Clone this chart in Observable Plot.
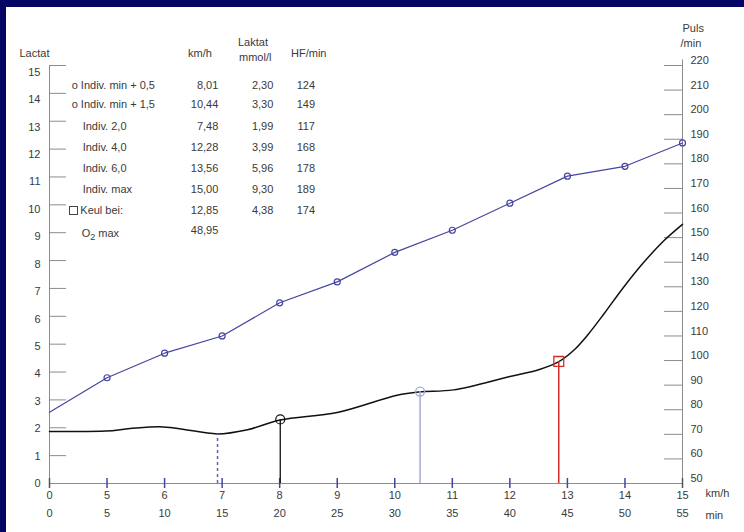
<!DOCTYPE html>
<html><head><meta charset="utf-8">
<script src="https://cdn.jsdelivr.net/npm/d3@7"></script>
<script src="https://cdn.jsdelivr.net/npm/@observablehq/plot@0.6"></script>
<style>
html,body{margin:0;padding:0;background:#050566;width:744px;height:532px;overflow:hidden;}
#wrap{position:absolute;left:6px;top:7px;width:738px;height:525px;background:#fff;}
#chart{position:absolute;left:0;top:0;}
.cell{position:absolute;font:11px "Liberation Sans",Arial,sans-serif;color:#3a3a3a;line-height:12px;white-space:nowrap;}
.box{position:absolute;width:7px;height:7px;border:1px solid #444;}
</style></head><body><div id="wrap"><div id="chart"></div></div>
<script>
// ---- data ----
const minutes = [0,5,10,15,20,25,30,35,40,45,50,55];
const kmhLabels = [0,5,6,7,8,9,10,11,12,13,14,15];
const minLabels = [0,5,10,15,20,25,30,35,40,45,50,55];
const leftTicks = [0,1,2,3,4,5,6,7,8,9,10,11,12,13,14,15];
const pulsTicks = [50,60,70,80,90,100,110,120,130,140,150,160,170,180,190,200,210,220];
const pulsValues = [79,93,103,110,123.5,132,144,153,164,175,179,188.5];
const lactatMinutes = [0,4.9,7,9.6,11.4,14.6,17.2,20.05,25,30.2,32.2,35.1,40,42.5,44.25,45.6,46.8,48.2,49.8,51.6,53.4,55];
const lactatValues  = [1.87,1.88,1.97,2.04,1.96,1.78,1.93,2.28,2.55,3.17,3.29,3.36,3.84,4.08,4.37,4.8,5.35,6.1,7.0,7.92,8.72,9.3];
// markers: individual minimum, min+0.5, min+1.5, Keul
const minKmh = [6.92], minLac = [1.78];
const m05Kmh = [8.01], m05Lac = [2.30];
const m15Kmh = [10.44], m15Lac = [3.30];
const keulKmh = [12.85], keulLac = [4.38];
// table
const tableLabels = ["o Indiv. min + 0,5","o Indiv. min + 1,5","Indiv. 2,0","Indiv. 4,0","Indiv. 6,0","Indiv. max","Keul bei:","O<sub style='font-size:9px;position:relative;top:3px;vertical-align:baseline'>2</sub> max"];
const tableKmh = [8.01,10.44,7.48,12.28,13.56,15.00,12.85,48.95];
const tableLac = [2.30,3.30,1.99,3.99,5.96,9.30,4.38,null];
const tableHF  = [124,149,117,168,178,189,174,null];

// ---- helpers ----
const W=738,H=525,mL=43,mR=62,mT=58,mB=49;
const innerW=W-mL-mR, innerH=H-mT-mB;
const toLac = p => (p-50)*15/170;
const kmhToMin = k => (k-4)*5;
const gray="#8c8c8c", txt="#3a3a3a", blue="#45459f";
const pulsData = minutes.map((m,i)=>({m, p:pulsValues[i]}));
const lacData = lactatMinutes.map((m,i)=>({m, l:lactatValues[i]}));
const fmt = v => v.toFixed(2).replace(".", ",");

const chart = Plot.plot({
  width:W, height:H, marginLeft:mL, marginRight:mR, marginTop:mT, marginBottom:mB,
  x:{domain:[0,55], axis:null},
  y:{domain:[0,15], axis:null},
  style:{fontFamily:'"Liberation Sans", Arial, sans-serif', fontSize:"11px", color:txt, background:"transparent", overflow:"visible"},
  marks:[
    Plot.tickY(leftTicks.filter(v=>v>0), {y:d=>d, stroke:gray, insetRight:innerW-17}),
    Plot.tickY(pulsTicks.filter(p=>p>50), {y:toLac, stroke:gray, insetLeft:innerW-18}),
    Plot.ruleX([0], {x:d=>d, y1:0, y2:15, stroke:gray}),
    Plot.ruleX([55], {x:d=>d, y1:0, y2:15.2, stroke:gray}),
    Plot.ruleY([0], {y:d=>d, stroke:gray}),
    Plot.tickX(minutes.slice(1,-1), {x:d=>d, stroke:blue, strokeWidth:1.5, insetTop:innerH-5, insetBottom:-5}),
    Plot.tickX([0,55], {x:d=>d, stroke:"#555", strokeWidth:1.5, insetTop:innerH-5, insetBottom:-5}),
    Plot.text(leftTicks, {y:d=>d*0.984, text:d=>String(d), frameAnchor:"left", lineAnchor:"middle", textAnchor:"end", dx:-9}),
    Plot.text(pulsTicks, {y:toLac, text:d=>String(d), frameAnchor:"right", lineAnchor:"middle", textAnchor:"start", dx:8, dy:-5}),
    Plot.text(kmhLabels, {x:(d,i)=>minLabels[i], text:d=>String(d), frameAnchor:"bottom", lineAnchor:"middle", dy:12}),
    Plot.text(minLabels, {x:d=>d, text:d=>String(d), frameAnchor:"bottom", lineAnchor:"middle", dy:29.5}),
    Plot.text(["km/h"], {text:d=>d, frameAnchor:"bottom-right", lineAnchor:"middle", textAnchor:"start", dx:23, dy:10}),
    Plot.text(["min"], {text:d=>d, frameAnchor:"bottom-right", lineAnchor:"middle", textAnchor:"start", dx:23, dy:32}),
    Plot.text(["Lactat"], {text:d=>d, frameAnchor:"top-left", lineAnchor:"middle", textAnchor:"start", dx:-30, dy:-12}),
    Plot.text(["Puls"], {text:d=>d, frameAnchor:"top-right", lineAnchor:"middle", textAnchor:"start", dx:0, dy:-37}),
    Plot.text(["/min"], {text:d=>d, frameAnchor:"top-right", lineAnchor:"middle", textAnchor:"start", dx:-2, dy:-22}),
    // heart rate
    Plot.line(pulsData, {x:"m", y:d=>toLac(d.p), stroke:blue, strokeWidth:1.2}),
    Plot.dot(pulsData.slice(1), {x:"m", y:d=>toLac(d.p), r:3, stroke:blue, strokeWidth:1.2, fill:"none"}),
    // lactate curve
    Plot.line(lacData, {x:"m", y:"l", stroke:"#111", strokeWidth:1.5, curve:"catmull-rom"}),
    // marker drop lines
    Plot.ruleX(minKmh, {x:kmhToMin, y1:0, y2:(d,i)=>minLac[i], stroke:"#5a62b2", strokeWidth:1.5, strokeDasharray:"3,3"}),
    Plot.ruleX(m05Kmh, {x:kmhToMin, y1:0, y2:(d,i)=>m05Lac[i], stroke:"#111", strokeWidth:1.3}),
    Plot.dot(m05Kmh, {x:kmhToMin, y:(d,i)=>m05Lac[i], r:4.5, stroke:"#111", strokeWidth:1.2, fill:"none"}),
    Plot.ruleX(m15Kmh, {x:kmhToMin, y1:0, y2:(d,i)=>m15Lac[i], stroke:"#a4aad8", strokeWidth:1.5}),
    Plot.dot(m15Kmh, {x:kmhToMin, y:(d,i)=>m15Lac[i], r:4.5, stroke:"#a4aad8", strokeWidth:1.3, fill:"none"}),
    Plot.ruleX(keulKmh, {x:kmhToMin, y1:0, y2:(d,i)=>keulLac[i], stroke:"#d42a2a", strokeWidth:1.5}),
    Plot.dot(keulKmh, {x:kmhToMin, y:(d,i)=>keulLac[i], r:5.6, symbol:"square", stroke:"#d42a2a", strokeWidth:1.3, fill:"none"})
  ]
});
document.getElementById("chart").appendChild(chart);

// ---- table overlay ----
const wrap = document.getElementById("wrap");
function cell(html, {left, right, cy}) {
  const d = document.createElement("div");
  d.className = "cell";
  d.innerHTML = html;
  d.style.top = (cy - 6) + "px";
  if (left != null) d.style.left = left + "px";
  if (right != null) d.style.right = (738 - right) + "px";
  wrap.appendChild(d);
}
cell("km/h", {left:182, cy:46});
cell("Laktat", {left:232, cy:35});
cell("mmol/l", {left:233, cy:50});
cell("HF/min", {left:285, cy:46});
const rowY = [78, 97.3, 119, 139.7, 161.3, 182, 203, 224];
const rowX = [65.7, 65.7, 76.7, 76.7, 76.7, 76.7, 74.3, 75.7];
tableLabels.forEach((lab, i) => {
  cell(lab, {left:rowX[i], cy:rowY[i] + (i===7 ? 2 : 0)});
  cell(fmt(tableKmh[i]), {right:212.3, cy:rowY[i] - (i===7 ? 1 : 0)});
  if (tableLac[i] != null) cell(fmt(tableLac[i]), {right:267.3, cy:rowY[i]});
  if (tableHF[i] != null) cell(String(tableHF[i]), {right:309, cy:rowY[i]});
});
const b = document.createElement("div");
b.className = "box";
b.style.left = "63.3px"; b.style.top = (rowY[6]-4.5) + "px";
wrap.appendChild(b);
</script></body></html>
